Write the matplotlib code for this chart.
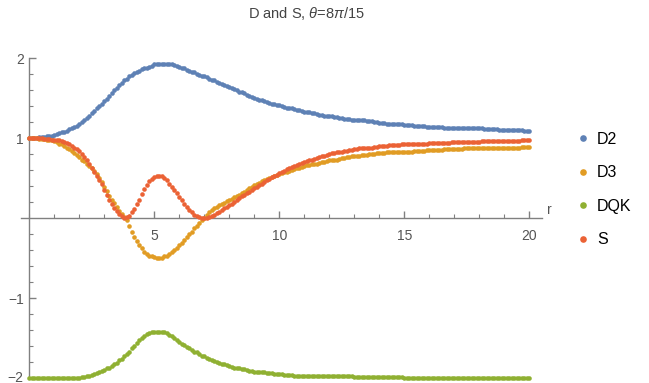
import numpy as np
import matplotlib
matplotlib.use("Agg")
import matplotlib.pyplot as plt
import matplotlib.transforms as mtransforms
from matplotlib.ticker import MultipleLocator, FixedLocator

plt.rcParams['font.family'] = ['Liberation Sans', 'DejaVu Sans']
plt.rcParams['mathtext.fontset'] = 'custom'
plt.rcParams['mathtext.it'] = 'Liberation Sans:italic'
plt.rcParams['mathtext.rm'] = 'Liberation Sans'

# r grid, step 0.1 from 0 to 20
r = np.round(np.arange(0, 201) * 0.1, 1)

d2 = [
    1.00, 1.00, 1.00, 1.00, 1.01, 1.01, 1.01, 1.02, 1.02, 1.03,
    1.04, 1.05, 1.06, 1.07, 1.08, 1.09, 1.11, 1.12, 1.14, 1.15,
    1.17, 1.20, 1.23, 1.25, 1.28, 1.31, 1.34, 1.37, 1.40, 1.43,
    1.46, 1.49, 1.53, 1.56, 1.60, 1.63, 1.66, 1.69, 1.72, 1.74,
    1.77, 1.79, 1.81, 1.83, 1.84, 1.86, 1.87, 1.88, 1.89, 1.90,
    1.92, 1.92, 1.93, 1.93, 1.93, 1.93, 1.93, 1.92, 1.91, 1.90,
    1.89, 1.88, 1.87, 1.85, 1.84, 1.83, 1.82, 1.80, 1.79, 1.78,
    1.77, 1.76, 1.74, 1.73, 1.72, 1.70, 1.69, 1.68, 1.66, 1.65,
    1.64, 1.63, 1.61, 1.60, 1.58, 1.57, 1.56, 1.54, 1.53, 1.51,
    1.50, 1.49, 1.48, 1.47, 1.46, 1.45, 1.44, 1.43, 1.42, 1.41,
    1.41, 1.40, 1.39, 1.38, 1.38, 1.37, 1.36, 1.35, 1.35, 1.34,
    1.33, 1.32, 1.32, 1.31, 1.31, 1.30, 1.29, 1.29, 1.28, 1.28,
    1.27, 1.27, 1.26, 1.26, 1.25, 1.25, 1.24, 1.24, 1.24, 1.23,
    1.23, 1.23, 1.22, 1.22, 1.22, 1.21, 1.21, 1.21, 1.20, 1.20,
    1.19, 1.19, 1.19, 1.18, 1.18, 1.18, 1.18, 1.17, 1.17, 1.17,
    1.16, 1.16, 1.16, 1.16, 1.15, 1.15, 1.15, 1.15, 1.15, 1.14,
    1.14, 1.14, 1.14, 1.14, 1.14, 1.14, 1.13, 1.13, 1.13, 1.13,
    1.13, 1.13, 1.13, 1.12, 1.12, 1.12, 1.12, 1.12, 1.12, 1.12,
    1.12, 1.12, 1.11, 1.11, 1.11, 1.11, 1.11, 1.11, 1.10, 1.10,
    1.10, 1.10, 1.10, 1.10, 1.10, 1.10, 1.10, 1.10, 1.09, 1.09,
    1.09,
]

d3 = [
    1.00, 1.00, 1.00, 1.00, 0.99, 0.99, 0.99, 0.98, 0.98, 0.97,
    0.96, 0.95, 0.93, 0.92, 0.90, 0.88, 0.86, 0.84, 0.81, 0.79,
    0.76, 0.73, 0.71, 0.68, 0.65, 0.62, 0.59, 0.55, 0.50, 0.45,
    0.39, 0.34, 0.28, 0.23, 0.19, 0.14, 0.09, 0.05, 0.01, -0.03,
    -0.10, -0.17, -0.24, -0.29, -0.34, -0.38, -0.42, -0.45, -0.47, -0.48,
    -0.49, -0.50, -0.50, -0.50, -0.48, -0.47, -0.45, -0.43, -0.40, -0.37,
    -0.34, -0.31, -0.27, -0.24, -0.20, -0.17, -0.13, -0.10, -0.06, -0.03,
    0.00, 0.04, 0.07, 0.10, 0.12, 0.14, 0.16, 0.18, 0.19, 0.21,
    0.22, 0.24, 0.26, 0.28, 0.29, 0.31, 0.33, 0.35, 0.37, 0.39,
    0.41, 0.43, 0.44, 0.46, 0.47, 0.49, 0.50, 0.51, 0.53, 0.54,
    0.55, 0.56, 0.57, 0.58, 0.59, 0.60, 0.61, 0.62, 0.63, 0.64,
    0.65, 0.66, 0.66, 0.67, 0.68, 0.68, 0.69, 0.70, 0.70, 0.71,
    0.72, 0.72, 0.73, 0.73, 0.74, 0.75, 0.75, 0.76, 0.76, 0.77,
    0.78, 0.78, 0.78, 0.79, 0.79, 0.79, 0.80, 0.80, 0.80, 0.81,
    0.81, 0.81, 0.81, 0.82, 0.82, 0.82, 0.82, 0.82, 0.82, 0.83,
    0.83, 0.83, 0.83, 0.83, 0.84, 0.84, 0.84, 0.84, 0.84, 0.85,
    0.85, 0.85, 0.85, 0.85, 0.85, 0.85, 0.86, 0.86, 0.86, 0.86,
    0.86, 0.86, 0.86, 0.86, 0.87, 0.87, 0.87, 0.87, 0.87, 0.87,
    0.87, 0.87, 0.87, 0.87, 0.88, 0.88, 0.88, 0.88, 0.88, 0.88,
    0.88, 0.88, 0.88, 0.88, 0.88, 0.88, 0.88, 0.89, 0.89, 0.89,
    0.89,
]

dqk = (
    [-2.00] * 20 +
    [-2.00, -1.99, -1.99, -1.98, -1.97, -1.96, -1.95, -1.94, -1.93, -1.91,
     -1.90, -1.88, -1.87, -1.85, -1.83, -1.81, -1.78, -1.76, -1.73, -1.70,
     -1.67, -1.63, -1.60, -1.56, -1.53, -1.50, -1.47, -1.45, -1.44, -1.43,
     -1.42, -1.42, -1.42, -1.42, -1.43, -1.44, -1.46, -1.48, -1.50, -1.53,
     -1.55, -1.57, -1.59, -1.61, -1.63, -1.65, -1.67, -1.68, -1.70, -1.72,
     -1.73, -1.75, -1.76, -1.78, -1.79, -1.80, -1.81, -1.82, -1.83, -1.84,
     -1.85, -1.86, -1.87, -1.87, -1.88, -1.89, -1.89, -1.90, -1.91, -1.91,
     -1.92, -1.92, -1.93, -1.93, -1.93, -1.94, -1.94, -1.94, -1.95, -1.95,
     -1.95, -1.95, -1.96, -1.96, -1.96, -1.96, -1.97, -1.97, -1.97, -1.97,
     -1.97, -1.97, -1.97, -1.98, -1.98, -1.98, -1.98, -1.98, -1.98, -1.98] +
    [-1.98] * 10 +
    [-1.99] * 20 +
    [-2.00] * 51
)

s = [
    1.00, 1.00, 1.00, 1.00, 1.00, 1.00, 0.99, 0.99, 0.99, 0.98,
    0.98, 0.97, 0.97, 0.96, 0.95, 0.94, 0.92, 0.90, 0.88, 0.86,
    0.84, 0.80, 0.76, 0.72, 0.68, 0.63, 0.58, 0.53, 0.48, 0.42,
    0.35, 0.29, 0.23, 0.18, 0.13, 0.09, 0.05, 0.02, 0.00, 0.01,
    0.03, 0.07, 0.11, 0.17, 0.23, 0.30, 0.36, 0.41, 0.46, 0.49,
    0.51, 0.52, 0.52, 0.52, 0.50, 0.47, 0.43, 0.39, 0.35, 0.31,
    0.26, 0.22, 0.18, 0.14, 0.10, 0.07, 0.04, 0.02, 0.01, 0.00,
    0.00, 0.00, 0.01, 0.02, 0.04, 0.06, 0.08, 0.10, 0.12, 0.14,
    0.16, 0.18, 0.20, 0.23, 0.25, 0.27, 0.29, 0.31, 0.33, 0.35,
    0.37, 0.39, 0.41, 0.43, 0.45, 0.47, 0.49, 0.51, 0.53, 0.54,
    0.56, 0.58, 0.59, 0.61, 0.62, 0.64, 0.65, 0.66, 0.68, 0.69,
    0.70, 0.71, 0.72, 0.73, 0.74, 0.75, 0.76, 0.77, 0.78, 0.79,
    0.80, 0.81, 0.81, 0.82, 0.83, 0.83, 0.84, 0.84, 0.85, 0.85,
    0.86, 0.86, 0.87, 0.87, 0.87, 0.88, 0.88, 0.88, 0.89, 0.89,
    0.90, 0.90, 0.90, 0.90, 0.91, 0.91, 0.91, 0.91, 0.91, 0.92,
    0.92, 0.92, 0.92, 0.92, 0.93, 0.93, 0.93, 0.93, 0.93, 0.93,
    0.94, 0.94, 0.94, 0.94, 0.94, 0.94, 0.94, 0.94, 0.94, 0.95,
    0.95, 0.95, 0.95, 0.95, 0.95, 0.95, 0.95, 0.95, 0.95, 0.95,
    0.95, 0.96, 0.96, 0.96, 0.96, 0.96, 0.96, 0.96, 0.96, 0.96,
    0.96, 0.96, 0.96, 0.96, 0.96, 0.96, 0.96, 0.97, 0.97, 0.97,
    0.97,
]

series = [("D2", d2, "#5E81B5"), ("D3", d3, "#E19C24"),
          ("DQK", dqk, "#8FB032"), ("S", s, "#EB6235")]

x_major = [5, 10, 15, 20]
y_major = [-2, -1, 1, 2]

W, H = 649, 383
fig = plt.figure(figsize=(W / 100, H / 100), dpi=100)
# axes box in pixels: left 20.5, right 541.8, top 58, bottom 378
ax = fig.add_axes([20.5 / W, (H - 378) / H, (541.8 - 20.5) / W, 320 / H])
ax.set_xlim(-0.35, 20.5)
ax.set_ylim(-2, 2)

for name, vals, col in series:
    ax.plot(r, vals, 'o', ms=3.3, mec='none', color=col, label=name,
            clip_on=False, zorder=3)

axis_col = '#808080'
label_col = '#555555'
for side in ('top', 'right'):
    ax.spines[side].set_visible(False)
ax.spines['left'].set_position(('data', 0))
ax.spines['bottom'].set_position(('data', 0))
for side in ('left', 'bottom'):
    ax.spines[side].set_color(axis_col)
    ax.spines[side].set_linewidth(1.0)

ax.xaxis.set_major_locator(FixedLocator(x_major))
ax.xaxis.set_minor_locator(MultipleLocator(1))
ax.yaxis.set_major_locator(FixedLocator(y_major))
ax.yaxis.set_minor_locator(FixedLocator([v / 5 for v in range(-9, 10) if v % 5 != 0]))

ax.tick_params(axis='x', which='both', direction='in', color=axis_col,
               labelcolor=label_col, labelsize=10, pad=8)
ax.tick_params(axis='y', which='both', direction='in', color=axis_col,
               labelcolor=label_col, labelsize=10, pad=4)
ax.tick_params(which='major', length=5, width=1)
ax.tick_params(which='minor', length=3, width=0.8)
ax.set_xticklabels([str(v) for v in x_major])
ax.set_yticklabels(['\u22122', '\u22121', '1', '2'])

# lift the bottom label a little so it stays inside the picture
lowest = ax.get_yticklabels()[0]
lowest.set_transform(lowest.get_transform() +
                     mtransforms.ScaledTranslation(0, 2 / 100, fig.dpi_scale_trans))

ax.annotate('r', xy=(1, 0), xycoords=('axes fraction', 'data'),
            xytext=(4, 1), textcoords='offset points', color=label_col,
            fontsize=10, ha='left', va='bottom')

fig.text(307 / W, 1 - 14 / H, r'D and S, $\theta$=8$\pi$/15', ha='center',
         va='center', fontsize=10.5, color='#444444')

leg = fig.legend(loc='upper left', bbox_to_anchor=(578 / W, 1 - 132 / H),
                 frameon=False, fontsize=11.5, markerscale=1.45,
                 handlelength=0.6, handletextpad=0.6, labelspacing=1.15,
                 borderaxespad=0, borderpad=0)

fig.savefig('out.png', dpi=100)
